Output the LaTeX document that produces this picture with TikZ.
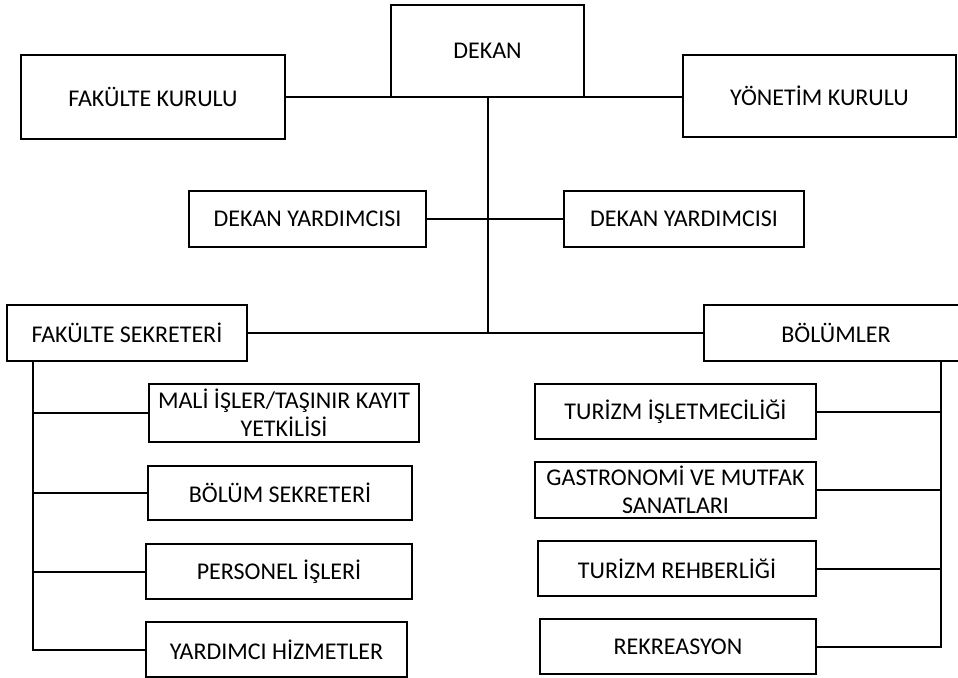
\documentclass[tikz,border=0pt]{standalone}
\usepackage{fontspec}
\setmainfont{Carlito}

\begin{document}
\begin{tikzpicture}[x=0.75pt,y=-0.75pt,line width=1.5pt,
    box/.style 2 args={draw,line width=1.5pt,align=center,inner sep=0pt,outer sep=0pt,
      minimum width=#1*0.75pt,minimum height=#2*0.75pt,
      font=\fontsize{18}{21}\selectfont}]
        \useasboundingbox (0,0) rectangle (958,678);

        % Top: dean with the two boards
        \node[box={193}{92}] (dekan) at (487.5,51) {DEKAN};
        \node[box={264}{84}] (fk) at (153,97) {FAKÜLTE KURULU};
        \node[box={273}{82}] (yk) at (819.5,96) {YÖNETİM KURULU};

        % Deputies
        \node[box={237}{56}] (dyl) at (307.5,219) {DEKAN YARDIMCISI};
        \node[box={240}{56}] (dyr) at (684,219) {DEKAN YARDIMCISI};

        % Secretary and departments
        \node[box={240}{56}] (fs) at (127,333) {FAKÜLTE SEKRETERİ};
        \node[box={264}{56}] (bol) at (836,333) {BÖLÜMLER};

        % Left column
        \node[box={270}{58}] (mali) at (284,413) {MALİ İŞLER/TAŞINIR KAYIT\\YETKİLİSİ};
        \node[box={264}{54}] (bsek) at (280,493) {BÖLÜM SEKRETERİ};
        \node[box={266}{55}] (pers) at (279,571.5) {PERSONEL İŞLERİ};
        \node[box={261}{55}] (yard) at (276.5,649.5) {YARDIMCI HİZMETLER};

        % Right column
        \node[box={281}{55}] (tis) at (675.5,411.5) {TURİZM İŞLETMECİLİĞİ};
        \node[box={281}{56}] (gas) at (675.5,490) {GASTRONOMİ VE MUTFAK\\SANATLARI};
        \node[box={278}{55}] (treh) at (677,568.5) {TURİZM REHBERLİĞİ};
        \node[box={276}{55}] (rek) at (678,646.5) {REKREASYON};

        \coordinate (ltop) at (33,361);
        \coordinate (rtop) at (941,361);

        \draw (fk.east) -- (fk.east -| dekan.west);
        \draw (dekan.south east) -- (dekan.south east -| yk.west);
        \draw (dekan.south) -- (dekan.south |- fs.east);
        \draw (dyl.east) -- (dyr.west);
        \draw (fs.east) -- (bol.west);

        \draw (ltop) |- (yard.west);
        \foreach \n in {mali,bsek,pers}
          \draw (ltop |- \n.west) -- (\n.west);
        \draw (rtop) |- (rek.east);
        \foreach \n in {tis,gas,treh}
          \draw (rtop |- \n.east) -- (\n.east);
    \end{tikzpicture}
\end{document}
